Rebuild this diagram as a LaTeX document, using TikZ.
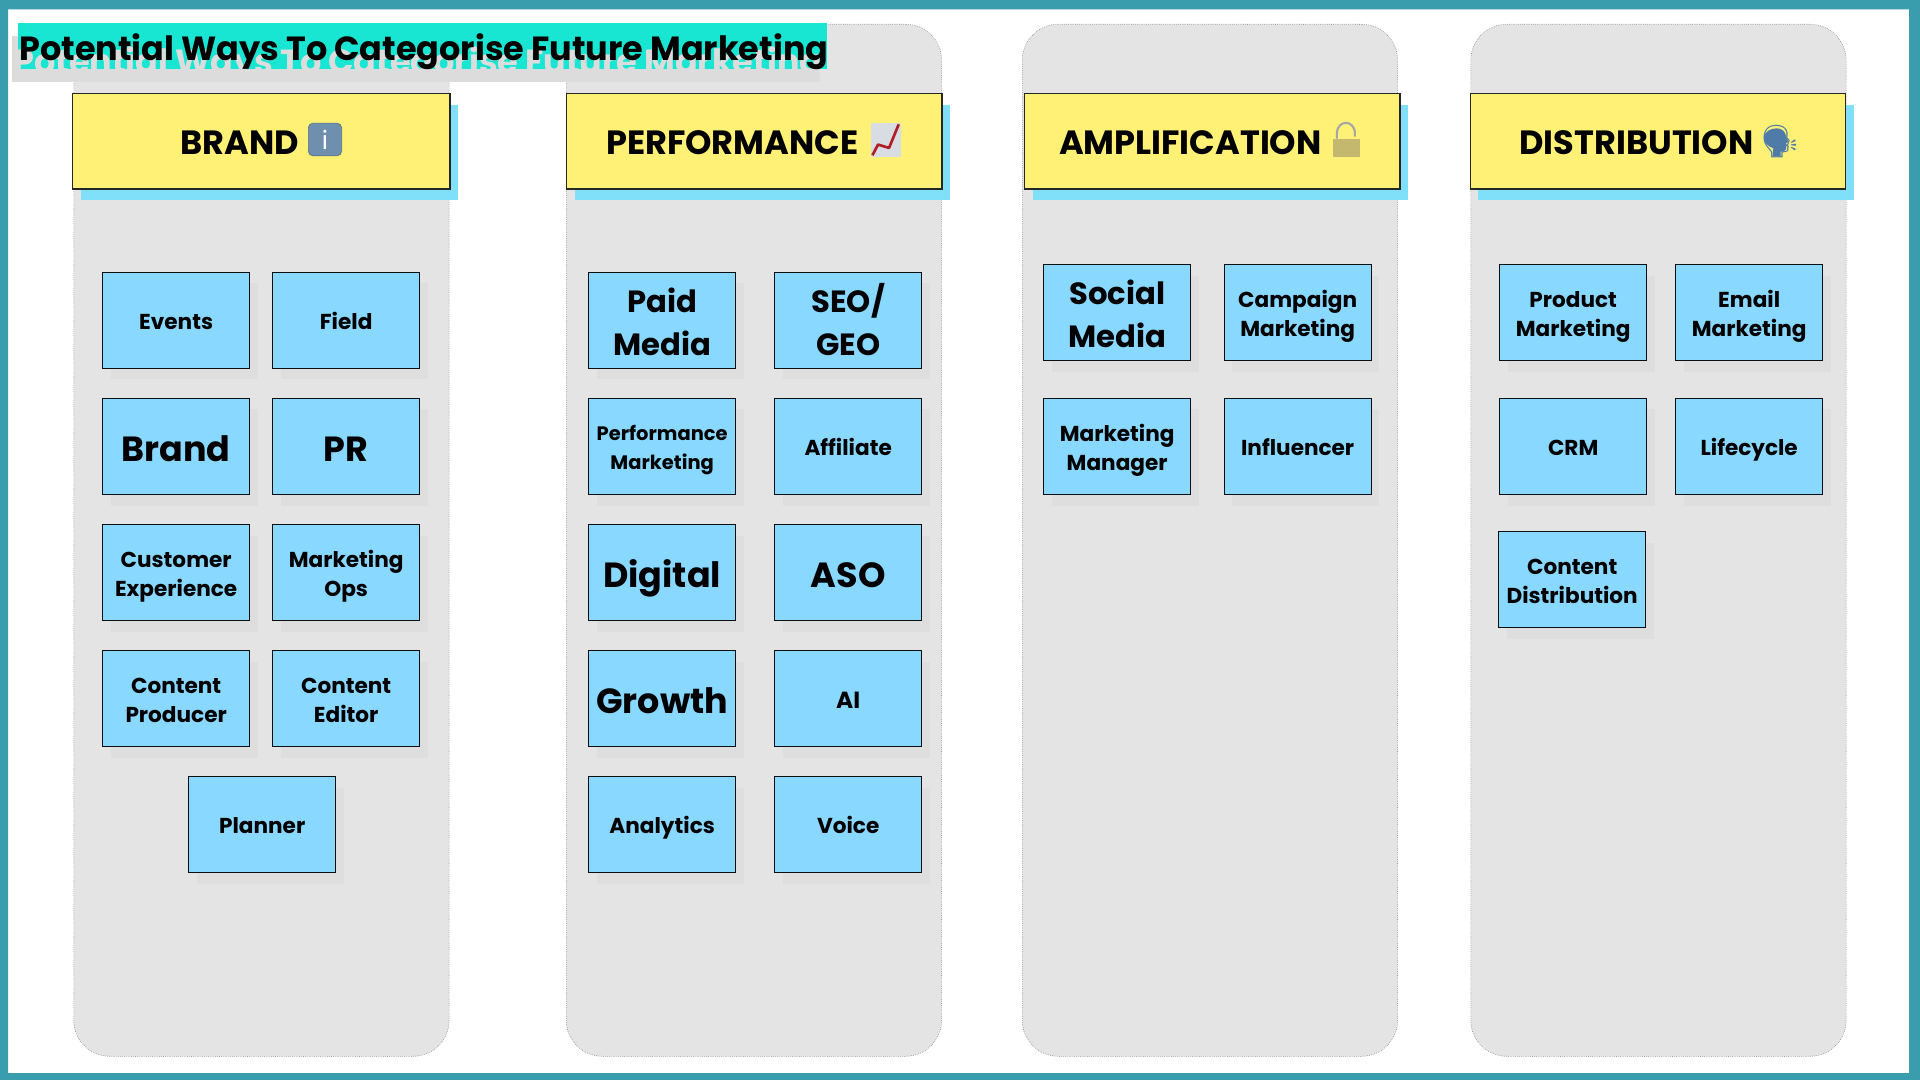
\documentclass[tikz,border=0pt]{standalone}
\usepackage{xcolor}
\usepackage{fontspec}
\usepackage{tikz}
\usetikzlibrary{shadows}

\setmainfont{Poppins}[Ligatures=NoCommon]
\newfontfamily\emojifont{Noto Emoji}

\definecolor{frameteal}{HTML}{3A9DAE}
\definecolor{titleteal}{HTML}{18E6D2}
\definecolor{titlegrey}{HTML}{DCDCDC}
\definecolor{panelgrey}{HTML}{E4E4E4}
\definecolor{headyellow}{HTML}{FFF176}
\definecolor{headshade}{HTML}{80E0FA}
\definecolor{noteblue}{HTML}{88D8FF}
\definecolor{noteshade}{HTML}{DEDEDE}
\definecolor{inkblack}{HTML}{0A0F14}
\definecolor{infosteel}{HTML}{6F8FAE}
\definecolor{talkblue}{HTML}{4F7BA8}
\definecolor{lockgold}{HTML}{C4B86E}
\definecolor{chartgrey}{HTML}{D8DCE3}
\definecolor{chartred}{HTML}{B01E28}

\newcommand{\fsmall}{\fontsize{16.2pt}{21.8pt}\selectfont\bfseries}
\newcommand{\ftiny}{\fontsize{14.6pt}{21.5pt}\selectfont\bfseries}
\newcommand{\fshort}{\fontsize{17.5pt}{21.8pt}\selectfont\bfseries}
\newcommand{\fmedium}{\fontsize{23pt}{32.2pt}\selectfont\bfseries}
\newcommand{\flarge}{\fontsize{26.2pt}{32pt}\selectfont\bfseries}
\newcommand{\fhead}{\fontsize{25.2pt}{30pt}\selectfont\bfseries}
\newcommand{\ftitle}{\fontsize{25.1pt}{32pt}\selectfont\bfseries}

\tikzset{
    capline/.style={execute at begin node={\rule{0pt}{\dimexpr #1\relax}},execute at end node={\rule[-0.3em]{0pt}{0pt}}},
    panelbox/.style={draw=black!60,densely dotted,line width=0.4pt,fill=panelgrey,rounded corners=27pt,minimum width=281.5pt,minimum height=774pt,anchor=north west,inner sep=0pt},
    headbox/.style={capline=1em+2.6pt,draw=black!85,line width=1pt,fill=headyellow,minimum width=281.5pt,minimum height=71.5pt,anchor=north west,inner sep=0pt,text=black,font=\fhead,
        drop shadow={shadow xshift=6pt,shadow yshift=-8.25pt,fill=headshade,opacity=1}},
    notebox/.style={capline=1.2em-0.64pt,draw=inkblack,line width=0.75pt,fill=noteblue,minimum width=110.5pt,minimum height=72pt,anchor=north west,inner sep=0pt,align=center,text=black,font=\fsmall,
        drop shadow={shadow xshift=6pt,shadow yshift=-8.25pt,fill=noteshade,opacity=1}},
    notetwo/.style={notebox,capline=1.2em-0.64pt+\baselineskip},
}

\begin{document}
\begin{tikzpicture}[x=0.75pt,y=0.75pt,yscale=-1,xscale=1]
    \useasboundingbox (0,0) rectangle (1920,1080);

    % outer frame
    \fill [frameteal,even odd rule] (0,0) rectangle (1920,1080) (8,9.5) rectangle (1909,1073);

    % grey columns
    \node (panelbrand) [panelbox] at (73.5,24) {};
    \node (panelperf) [panelbox] at (566,24) {};
    \node (panelampl) [panelbox] at (1022,24) {};
    \node (paneldist) [panelbox] at (1470.5,24) {};

    % column headers
    \node (headbrand) [headbox,minimum width=283pt] at (72,93) {BRAND\kern 32pt};
    \node (headperf) [headbox] at (566,93) {PERFORMANCE\kern 33pt};
    \node (headampl) [headbox] at (1024,93) {AMPLIFICATION\kern 33pt};
    \node (headdist) [headbox] at (1469.5,93) {DISTRIBUTION\kern 32pt};

    % header icons
    \node (iconinfo) [draw=infosteel!80!black,line width=0.5pt,fill=infosteel,rounded corners=3.5pt,minimum width=25pt,minimum height=24.5pt,inner sep=0pt,text=white,font=\fontsize{19pt}{19pt}\selectfont] at (325,139.5) {i};
    \node (iconchart) [fill=chartgrey,minimum width=22.5pt,minimum height=25.5pt,inner sep=0pt] at (886,140) {};
    \draw [chartred,line width=2pt,line join=round] (iconchart.south west) ++(1.7,-2) -- ++(5.6,-10.7) -- ++(11,3.4) -- ++(9.7,-23.7);
    \node (iconlock) [fill=lockgold,minimum width=20pt,minimum height=13.5pt,inner sep=0pt] at (1346.5,148) {};
    \draw [gray!70,line width=1.6pt] (iconlock.north west) ++(4,0) -- ++(0,-5) .. controls +(0,-14.5) and +(0,-14.5) .. ++(18,0) -- ++(0,3);
    \fill [talkblue] (1772.7,156) -- (1773.3,148.3) .. controls (1767,146) and (1764,142) .. (1764,138) .. controls (1764,132) and (1770,128.3) .. (1776.7,128.3) .. controls (1782,128.3) and (1786,132) .. (1786,136.7) -- (1788.3,141.7) -- (1786,143.3) -- (1786,149.3) -- (1783.3,151.7) -- (1780.7,151.7) -- (1780.7,156) -- cycle;
    \node (icontalk) [text=talkblue,font=\emojifont\fontsize{24pt}{24pt}\selectfont,inner sep=0pt] at (1780,142) {🗣};

    % brand notes
    \node (events) [notebox] at (102,272) {Events};
    \node (field) [notebox] at (272,272) {Field};
    \node (brand) [notebox,font=\flarge] at (102,398) {Brand};
    \node (pr) [notebox,font=\flarge] at (272,398) {PR};
    \node (custexp) [notetwo] at (102,524) {Customer\\Experience};
    \node (mktops) [notetwo] at (272,524) {Marketing\\Ops};
    \node (producer) [notetwo] at (102,650) {Content\\Producer};
    \node (editor) [notetwo] at (272,650) {Content\\Editor};
    \node (planner) [notebox] at (188,776) {Planner};

    % performance notes
    \node (paid) [notetwo,font=\fmedium] at (588,272) {Paid\\Media};
    \node (seo) [notetwo,font=\fmedium] at (774,272) {SEO/\\GEO};
    \node (perfmkt) [notetwo,font=\ftiny] at (588,398) {Performance\\Marketing};
    \node (affiliate) [notebox] at (774,398) {Affiliate};
    \node (digital) [notebox,font=\flarge] at (588,524) {Digital};
    \node (aso) [notebox,font=\flarge] at (774,524) {ASO};
    \node (growth) [notebox,font=\flarge] at (588,650) {Growth};
    \node (ai) [notebox,font=\fshort] at (774,650) {AI};
    \node (analytics) [notebox] at (588,776) {Analytics};
    \node (voice) [notebox] at (774,776) {Voice};

    % amplification notes
    \node (social) [notetwo,font=\fmedium] at (1043,264.5) {Social\\Media};
    \node (campaign) [notetwo] at (1223.5,264.5) {Campaign\\Marketing};
    \node (manager) [notetwo] at (1043,398) {Marketing\\Manager};
    \node (influencer) [notebox] at (1223.5,398) {Influencer};

    % distribution notes
    \node (product) [notetwo] at (1499,264.5) {Product\\Marketing};
    \node (email) [notetwo] at (1675,264.5) {Email\\Marketing};
    \node (crm) [notebox] at (1499,398) {CRM};
    \node (lifecycle) [notebox] at (1675,398) {Lifecycle};
    \node (distrib) [notetwo] at (1498,531) {Content\\Distribution};

    % title with its shadow
    \node (titleshade) [fill=titlegrey,minimum width=606pt,minimum height=34.5pt,anchor=north west,inner sep=0pt] at (12,36) {};
    \node (titleband) [fill=titleteal,minimum width=606.5pt,minimum height=34.5pt,anchor=north west,inner sep=0pt] at (18,23) {};
    \node (titleghost) [anchor=west,inner sep=0pt,text=titlegrey,font=\ftitle] at (13,65) {Potential Ways To Categorise Future Marketing};
    \node (titletext) [anchor=west,inner sep=0pt,text=black,font=\ftitle] at (19,52) {Potential Ways To Categorise Future Marketing};
\end{tikzpicture}
\end{document}
